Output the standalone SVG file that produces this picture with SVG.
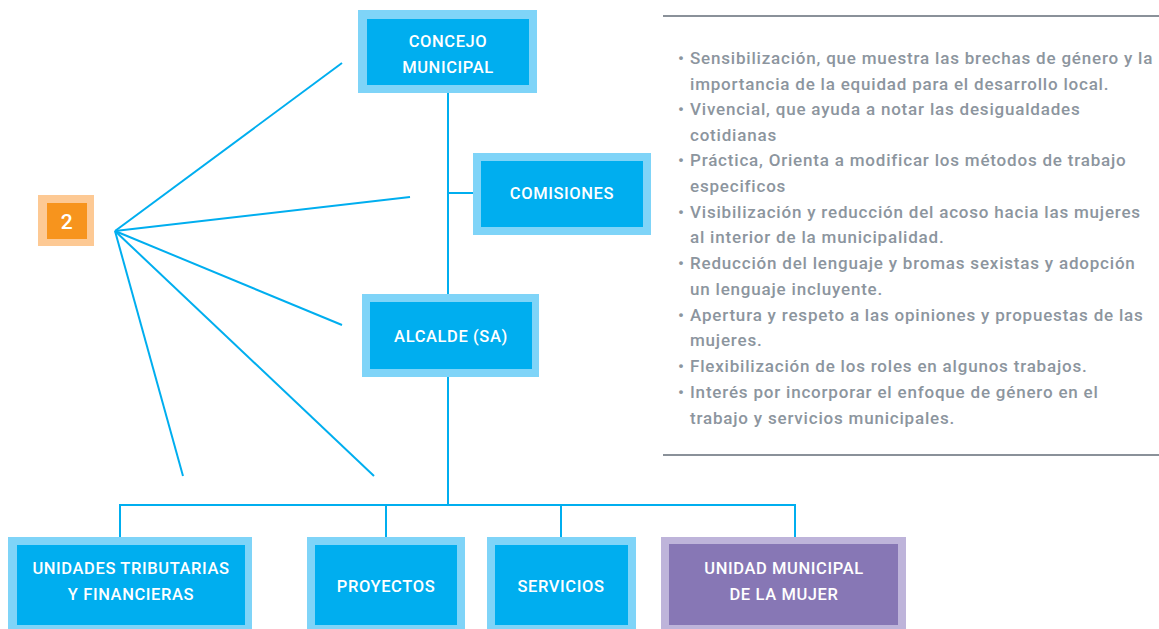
<svg xmlns="http://www.w3.org/2000/svg" width="1159" height="629" viewBox="0 0 1159 629">
<defs>
<style>
.outer{fill:#7fd4f8}
.inner{fill:#00aeef}
.pouter{fill:#beb4da}
.pinner{fill:#8777b5}
.lbl{font-family:Roboto,"Liberation Sans",sans-serif;font-weight:500;font-size:16.5px;fill:#ffffff;text-anchor:middle;letter-spacing:0.6px}
.con{stroke:#00aeef;stroke-width:2;fill:none}
.txt{font-family:Roboto,"Liberation Sans",sans-serif;font-weight:500;font-size:17px;fill:#8c959e;letter-spacing:0.8px}
.rule{stroke:#8a9199;stroke-width:2}
</style>
</defs>
<rect width="1159" height="629" fill="#ffffff"/>
<g id="connectors">
<line class="con" x1="115" y1="231" x2="342" y2="63"/>
<line class="con" x1="115" y1="231" x2="410" y2="197"/>
<line class="con" x1="115" y1="231" x2="342" y2="325"/>
<line class="con" x1="115" y1="231" x2="183" y2="476"/>
<line class="con" x1="115" y1="231" x2="374" y2="476"/>
<line class="con" x1="448" y1="93" x2="448" y2="294"/>
<line class="con" x1="448" y1="193" x2="473" y2="193"/>
<line class="con" x1="448" y1="377" x2="448" y2="505"/>
<polyline class="con" points="120,537 120,505 795,505 795,537"/>
<line class="con" x1="386" y1="505" x2="386" y2="537"/>
<line class="con" x1="561" y1="505" x2="561" y2="537"/>
</g>
<g id="node-concejo">
<rect class="outer" x="358" y="10" width="179" height="83"/>
<rect class="inner" x="367" y="19" width="162" height="66"/>
<text class="lbl" x="448" y="47">CONCEJO</text>
<text class="lbl" x="448" y="73">MUNICIPAL</text>
</g>
<g id="node-comisiones">
<rect class="outer" x="473" y="153" width="178" height="82"/>
<rect class="inner" x="481" y="161" width="162" height="66"/>
<text class="lbl" x="562" y="199">COMISIONES</text>
</g>
<g id="node-alcalde">
<rect class="outer" x="362" y="294" width="177" height="83"/>
<rect class="inner" x="370" y="302" width="162" height="67"/>
<text class="lbl" x="451" y="342">ALCALDE (SA)</text>
</g>
<g id="node-2">
<rect x="38" y="195" width="56" height="51" fill="#fdc994"/>
<rect x="47" y="203" width="40" height="36" fill="#f7941d"/>
<text class="lbl" x="67" y="229" style="font-size:21px">2</text>
</g>
<g id="node-unidades">
<rect class="outer" x="8" y="537" width="244" height="95"/>
<rect class="inner" x="17" y="545" width="228" height="80"/>
<text class="lbl" x="131" y="574">UNIDADES TRIBUTARIAS</text>
<text class="lbl" x="131" y="600">Y FINANCIERAS</text>
</g>
<g id="node-proyectos">
<rect class="outer" x="307" y="537" width="158" height="95"/>
<rect class="inner" x="315" y="545" width="142" height="80"/>
<text class="lbl" x="386" y="592">PROYECTOS</text>
</g>
<g id="node-servicios">
<rect class="outer" x="487" y="537" width="149" height="95"/>
<rect class="inner" x="495" y="545" width="133" height="80"/>
<text class="lbl" x="561" y="592">SERVICIOS</text>
</g>
<g id="node-umm">
<rect class="pouter" x="661" y="537" width="245" height="95"/>
<rect class="pinner" x="669" y="544" width="229" height="81"/>
<text class="lbl" x="784" y="574">UNIDAD MUNICIPAL</text>
<text class="lbl" x="784" y="600">DE LA MUJER</text>
</g>
<g id="textpanel">
<line class="rule" x1="663" y1="16" x2="1159" y2="16"/>
<line class="rule" x1="663" y1="455" x2="1159" y2="455"/>
<g class="txt">
<text x="678" y="64">•</text><text x="690" y="64">Sensibilización, que muestra las brechas de género y la</text>
<text x="690" y="90">importancia de la equidad para el desarrollo local.</text>
<text x="678" y="115">•</text><text x="690" y="115">Vivencial, que ayuda a notar las desigualdades</text>
<text x="690" y="141">cotidianas</text>
<text x="678" y="166">•</text><text x="690" y="166">Práctica, Orienta a modificar los métodos de trabajo</text>
<text x="690" y="192">especificos</text>
<text x="678" y="218">•</text><text x="690" y="218">Visibilización y reducción del acoso hacia las mujeres</text>
<text x="690" y="243">al interior de la municipalidad.</text>
<text x="678" y="269">•</text><text x="690" y="269">Reducción del lenguaje y bromas sexistas y adopción</text>
<text x="690" y="295">un lenguaje incluyente.</text>
<text x="678" y="321">•</text><text x="690" y="321">Apertura y respeto a las opiniones y propuestas de las</text>
<text x="690" y="346">mujeres.</text>
<text x="678" y="372">•</text><text x="690" y="372">Flexibilización de los roles en algunos trabajos.</text>
<text x="678" y="398">•</text><text x="690" y="398">Interés por incorporar el enfoque de género en el</text>
<text x="690" y="424">trabajo y servicios municipales.</text>
</g>
</g>
</svg>
